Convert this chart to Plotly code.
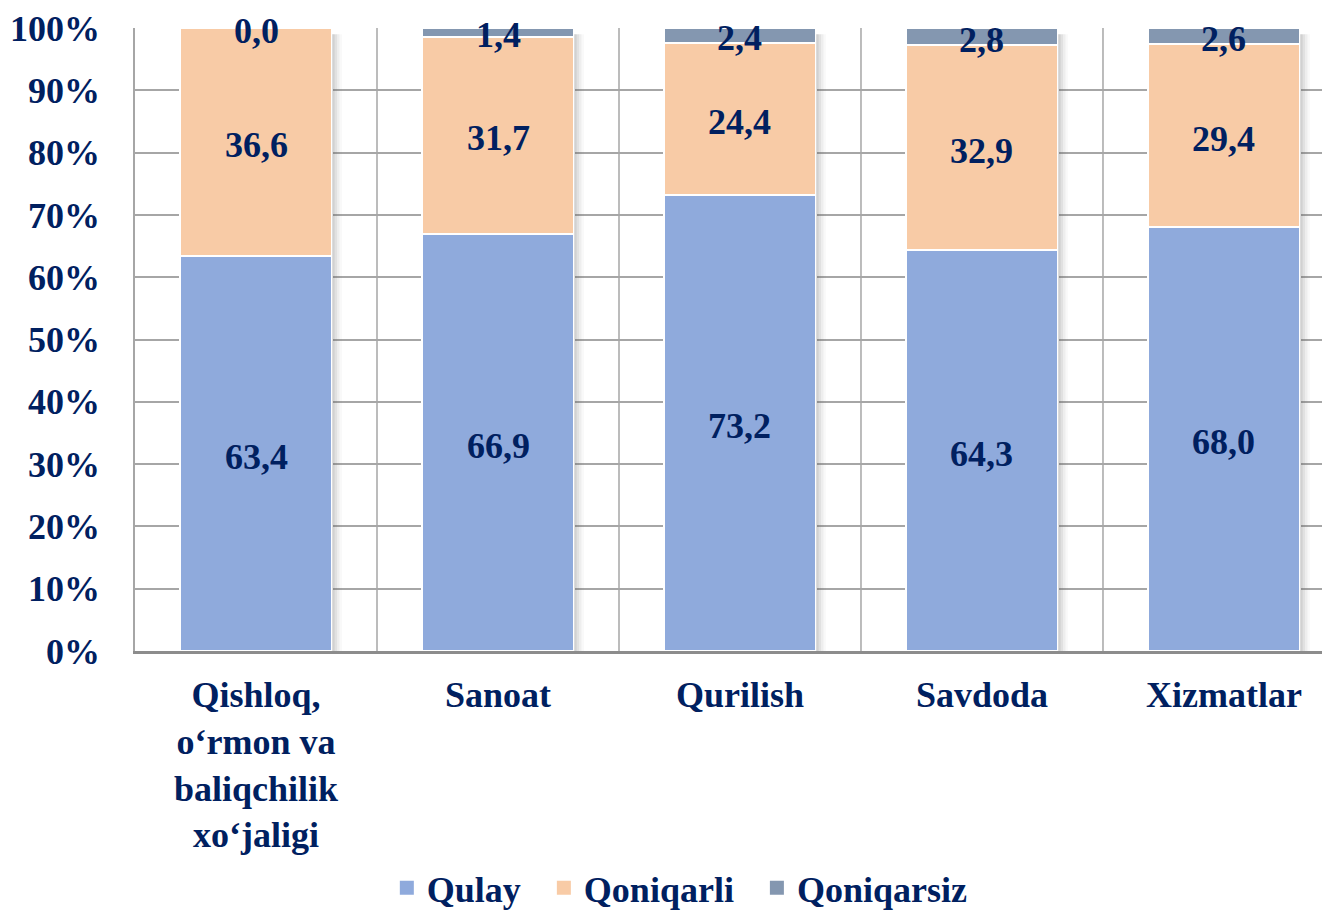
import plotly.graph_objects as go

# Sector satisfaction shares, %
categories = [
    "Qishloq,<br>o‘rmon va<br>baliqchilik<br>xo‘jaligi",
    "Sanoat",
    "Qurilish",
    "Savdoda",
    "Xizmatlar",
]
qulay = [63.4, 66.9, 73.2, 64.3, 68.0]
qoniqarli = [36.6, 31.7, 24.4, 32.9, 29.4]
qoniqarsiz = [0.0, 1.4, 2.4, 2.8, 2.6]

y_ticks = [0, 10, 20, 30, 40, 50, 60, 70, 80, 90, 100]

NAVY = "#002060"
FONT = "Times New Roman"
BAR_W = 0.63
NBSP = "\u00a0"

series = [
    ("Qulay", qulay, "#8FAADC"),
    ("Qoniqarli", qoniqarli, "#F8CBA6"),
    ("Qoniqarsiz", qoniqarsiz, "#8497B0"),
]

x = list(range(len(categories)))

fig = go.Figure()
annotations = []

base = [0.0] * len(x)
for i, (name, vals, color) in enumerate(series):
    fig.add_trace(go.Bar(
        x=x, y=vals, name=name, width=BAR_W, showlegend=False,
        marker=dict(color=color, line=dict(color="white", width=2)),
        hoverinfo="skip",
    ))
    # legend swatch (square marker) for the series
    pad = NBSP * 2 if i < len(series) - 1 else ""
    fig.add_trace(go.Scatter(
        x=[None], y=[None], mode="markers", name=name + pad,
        marker=dict(symbol="square", size=14, color=color),
    ))
    # value labels centred on each segment
    for xi, b, v in zip(x, base, vals):
        annotations.append(dict(
            x=xi, y=b + v / 2, xref="x", yref="y", showarrow=False,
            text=f"{v:.1f}".replace(".", ","), yshift=-3,
            font=dict(family=FONT, size=36, color=NAVY, weight="bold"),
        ))
    base = [b + v for b, v in zip(base, vals)]

# soft drop shadow on the right side of each bar
totals = base
shapes = []
steps = [(0.000, 0.010, 0.28), (0.010, 0.020, 0.18), (0.020, 0.030, 0.10), (0.030, 0.040, 0.04)]
for xi, tot in zip(x, totals):
    right = xi + BAR_W / 2
    for a, b, op in steps:
        shapes.append(dict(
            type="rect", xref="x", yref="y",
            x0=right + a, x1=right + b, y0=0, y1=tot - 1.0,
            fillcolor=f"rgba(90,90,90,{op})", line=dict(width=0), layer="above",
        ))

# vertical separators between categories
for xi in x:
    shapes.append(dict(
        type="line", xref="x", yref="y", x0=xi + 0.5, x1=xi + 0.5, y0=0, y1=100,
        line=dict(color="#A6A6A6", width=1.5), layer="below",
    ))

fig.update_layout(
    barmode="stack",
    width=1335, height=912,
    margin=dict(l=135, r=13, t=28, b=261, autoexpand=False),
    paper_bgcolor="white", plot_bgcolor="white",
    font=dict(family=FONT, color=NAVY, size=36),
    shapes=shapes,
    annotations=annotations,
    showlegend=True,
    legend=dict(
        orientation="h", x=0.459, xanchor="center", y=-0.38, yanchor="middle",
        font=dict(family=FONT, size=36, color=NAVY, weight="bold"),
        itemwidth=30, traceorder="normal", itemclick=False,
    ),
    xaxis=dict(
        tickmode="array", tickvals=x, ticktext=categories,
        range=[-0.5, 4.405],
        showgrid=False, zeroline=False,
        showline=True, linecolor="#8C8C8C", linewidth=2.5,
        ticks="", ticklabelstandoff=10, automargin=False,
        tickfont=dict(family=FONT, size=36, color=NAVY, weight="bold"),
    ),
    yaxis=dict(
        range=[0, 100], tickvals=y_ticks,
        ticktext=[f"{t}%" for t in y_ticks],
        showgrid=True, gridcolor="#A6A6A6", gridwidth=1.5,
        zeroline=False,
        showline=True, linecolor="#A6A6A6", linewidth=1.5,
        ticks="", ticklabelstandoff=26, automargin=False,
        tickfont=dict(family=FONT, size=36, color=NAVY, weight="bold"),
    ),
)

fig.write_html("out.html")
